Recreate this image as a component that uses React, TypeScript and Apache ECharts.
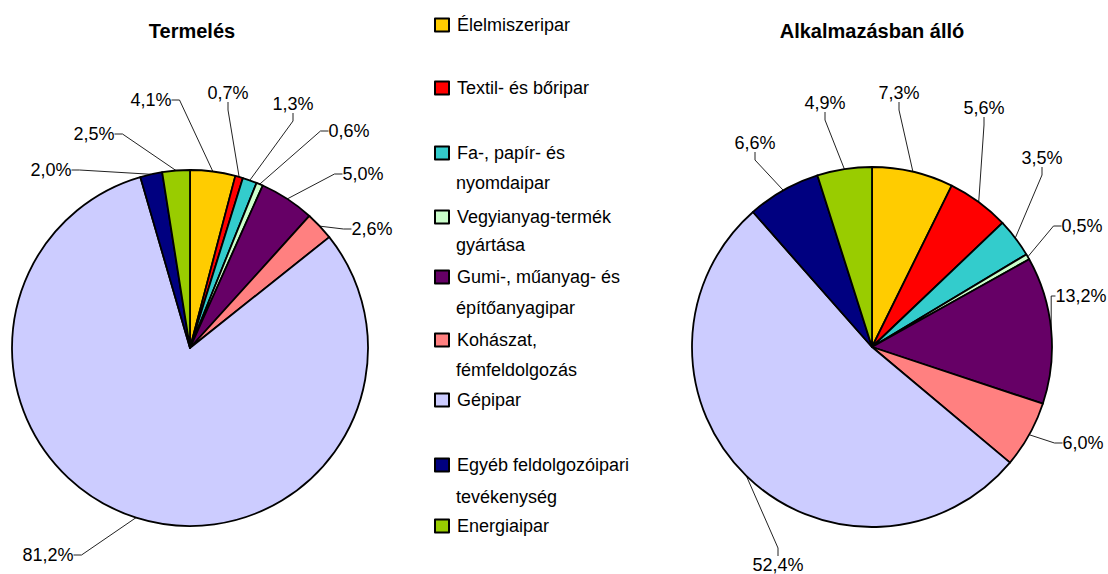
import React, { useEffect, useRef } from 'react';
import * as echarts from 'echarts';

const categories = [
  'Élelmiszeripar',
  'Textil- és bőripar',
  'Fa-, papír- és nyomdaipar',
  'Vegyianyag-termék gyártása',
  'Gumi-, műanyag- és építőanyagipar',
  'Kohászat, fémfeldolgozás',
  'Gépipar',
  'Egyéb feldolgozóipari tevékenység',
  'Energiaipar',
];
const legendFirstLines = [
  'Élelmiszeripar',
  'Textil- és bőripar',
  'Fa-, papír- és',
  'Vegyianyag-termék',
  'Gumi-, műanyag- és',
  'Kohászat,',
  'Gépipar',
  'Egyéb feldolgozóipari',
  'Energiaipar',
];
const legendSecondLines = ['', '', 'nyomdaipar', 'gyártása', 'építőanyagipar', 'fémfeldolgozás', '', 'tevékenység', ''];
const termeles = [4.1, 0.7, 1.3, 0.6, 5.0, 2.6, 81.2, 2.0, 2.5];
const alkalmazas = [7.3, 5.6, 3.5, 0.5, 13.2, 6.0, 52.4, 6.6, 4.9];
const titles = ['Termelés', 'Alkalmazásban álló'];

// styling / layout (not data)
const colors = ['#FFCC00', '#FF0000', '#33CCCC', '#CCFFCC', '#660066', '#FF8080', '#CCCCFF', '#000080', '#99CC00'];
const leftLabelPos = [[151, 100], [228, 93], [293, 104], [349, 131], [363, 174], [372, 229], [48, 555], [51, 170], [94, 134]];
const rightLabelPos = [[899, 93], [984, 108], [1042, 158], [1082, 226], [1081, 296], [1083, 443], [778, 565], [755, 143], [825, 103]];
const legendY = [27, 90, 155, 219, 279, 342, 402, 467, 528];
const legendY2 = [0, 0, 183, 245, 308, 370, 0, 497, 0];
const FONT = '"Liberation Sans", Arial, sans-serif';

const fmt = (v: number) => v.toFixed(1).replace('.', ',') + '%';

export default function App() {
  const ref = useRef<HTMLDivElement>(null);
  useEffect(() => {
    if (!ref.current) return;
    const chart = echarts.init(ref.current, undefined, { renderer: 'svg' });
    const makeSeries = (vals: number[], center: number[], radius: number, pos: number[][]) => ({
      type: 'pie',
      center,
      radius,
      startAngle: 90,
      clockwise: true,
      avoidLabelOverlap: false,
      color: colors,
      data: categories.map((n, i) => ({ name: n, value: vals[i] })),
      itemStyle: { borderColor: '#000', borderWidth: 1.8 },
      emphasis: { disabled: true },
      label: {
        show: true,
        position: 'outside',
        formatter: (p: any) => fmt(p.value),
        fontSize: 18,
        fontFamily: FONT,
        color: '#000',
      },
      labelLine: { show: true, length: 10, length2: 8, lineStyle: { color: '#222', width: 1 } },
      labelLayout: (p: any) => ({
        x: pos[p.dataIndex][0],
        y: pos[p.dataIndex][1],
        align: 'center',
        verticalAlign: 'middle',
      }),
    });
    const graphics: any[] = [];
    titles.forEach((t, i) => {
      graphics.push({
        type: 'text',
        x: i === 0 ? 192 : 872,
        y: 31,
        style: {
          text: t,
          fontSize: 20,
          fontWeight: 'bold',
          fontFamily: FONT,
          fill: '#000',
          align: 'center',
          verticalAlign: 'middle',
          textAlign: 'center',
          textVerticalAlign: 'middle',
        },
      });
    });
    legendSecondLines.forEach((t, i) => {
      if (!t) return;
      graphics.push({
        type: 'text',
        x: 456,
        y: legendY2[i],
        style: {
          text: t,
          fontSize: 18,
          fontFamily: FONT,
          fill: '#000',
          align: 'left',
          verticalAlign: 'middle',
          textAlign: 'left',
          textVerticalAlign: 'middle',
        },
      });
    });
    chart.setOption({
      animation: false,
      legend: categories.map((name, i) => ({
        data: [name],
        left: 434,
        top: legendY[i] - 11,
        orient: 'vertical',
        padding: 0,
        itemWidth: 14,
        itemHeight: 13,
        icon: 'rect',
        formatter: () => legendFirstLines[i],
        textStyle: { fontSize: 18, fontFamily: FONT, color: '#000', padding: [0, 0, 0, 3] },
      })),
      graphic: graphics,
      series: [
        makeSeries(termeles, [190, 348], 178, leftLabelPos),
        makeSeries(alkalmazas, [872, 347], 180, rightLabelPos),
      ],
    });
    return () => chart.dispose();
  }, []);
  return <div ref={ref} style={{ position: 'fixed', left: 0, top: 0, width: 1108, height: 574, background: '#fff' }} />;
}
